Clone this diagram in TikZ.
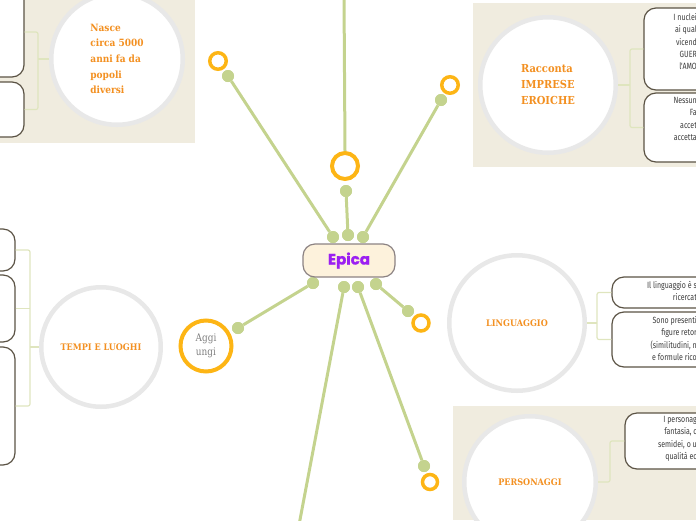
\documentclass[tikz,border=0pt]{standalone}
\usepackage{fontspec}
\setmainfont{DejaVu Serif}
\newfontfamily\headfont{DejaVu Serif}[FakeStretch=0.9]
\newfontfamily\boxfont{Fira Sans}[FakeStretch=0.78]
\newfontfamily\epicafont{Poppins}[FakeBold=1.2]
\newfontfamily\aggifont{DejaVu Serif}[FakeStretch=0.85]
\definecolor{panel}{HTML}{F0ECDF}
\definecolor{ringgrey}{HTML}{E8E8E8}
\definecolor{orangetxt}{HTML}{F39021}
\definecolor{amber}{HTML}{FDB515}
\definecolor{twig}{HTML}{C4D38E}
\definecolor{brkcol}{HTML}{DFE5BE}
\definecolor{boxline}{HTML}{5B5345}
\definecolor{boxtext}{HTML}{3C3C3C}
\definecolor{epicafill}{HTML}{FDF2DC}
\definecolor{epicaline}{HTML}{8C8383}
\definecolor{epicatext}{HTML}{9B1FF2}
\definecolor{aggitext}{HTML}{808080}
\tikzset{
  topic/.style={circle, fill=white, draw=ringgrey, line width=4.5pt, inner sep=0pt,
    text=orangetxt, font=\headfont\bfseries\fontsize{9}{15.6}\selectfont, align=left},
  leaf/.style={draw=boxline, line width=1.2pt, fill=white, rounded corners=12pt, inner sep=0pt},
  brk/.style={draw=brkcol, line width=1.2pt, rounded corners=2pt},
  twigline/.style={draw=twig, line width=3pt},
  knob/.style={circle, fill=twig, inner sep=0pt, minimum size=12pt},
  ring/.style={circle, draw=amber, fill=white, inner sep=0pt},
  boxtxt/.style={text=boxtext, font=\boxfont\fontsize{9}{12.4}\selectfont, align=right, anchor=north east, inner sep=0pt}
}
\begin{document}
\begin{tikzpicture}[x=1pt,y=-1pt]
\useasboundingbox (0,0) rectangle (696,520);
% panels
\fill[panel] (0,0) rectangle (195,143);
\fill[panel] (473,3) rectangle (696,167);
\fill[panel] (453,406) rectangle (696,520);
% leaf boxes
\node[leaf, minimum width=80, minimum height=90] (bTL1) at (-16,32) {};
\node[leaf, minimum width=80, minimum height=55] (bTL2) at (-16,109.5) {};
\node[leaf, minimum width=75, minimum height=42] (bL1) at (-22.5,250) {};
\node[leaf, minimum width=75, minimum height=67] (bL2) at (-22.5,308.5) {};
\node[leaf, minimum width=75, minimum height=118] (bL3) at (-22.5,406) {};
\node[leaf, minimum width=116, minimum height=82] (bTR1) at (702,49) {};
\node[leaf, minimum width=116, minimum height=69] (bTR2) at (702,127.5) {};
\node[leaf, minimum width=128, minimum height=31] (bR1) at (676,292.5) {};
\node[leaf, minimum width=128, minimum height=55] (bR2) at (676,339.5) {};
\node[leaf, minimum width=135, minimum height=56] (bP) at (692.5,441) {};
% topic circles
\node[topic, minimum size=131.5, font=\headfont\bfseries\fontsize{10}{15.6}\selectfont] (cTL) at (117,59)
  {Nasce\\circa 5000\\anni fa da\\popoli\\diversi};
\node[topic, minimum size=135.5, font=\headfont\bfseries\fontsize{11}{16}\selectfont] (cTR) at (548,85)
  {Racconta\\IMPRESE\\EROICHE};
\node[topic, minimum size=119.5] (cL) at (101,347) {TEMPI E LUOGHI};
\node[topic, minimum size=135.5] (cR) at (517,323) {LINGUAGGIO};
\node[topic, minimum size=131.5] (cP) at (530,482) {PERSONAGGI};
% brackets
\draw[brk] (bTL1.east) -| (38,59) |- (bTL2.east);
\draw[brk] (cTL.west) -- (38,59);
\draw[brk] (bL1.east) -| (30,347) |- (bL3.east);
\draw[brk] (bL2.east) -- (30,308.5);
\draw[brk] (cL.west) -- (30,347);
\draw[brk] (bTR1.west) -| (630,85) |- (bTR2.west);
\draw[brk] (cTR.east) -- (630,85);
\draw[brk] (bR1.west) -| (597,323) |- (bR2.west);
\draw[brk] (cR.east) -- (597,323);
\draw[brk] (cP.east) -- (610,482) |- (bP.west);
% leaf texts (cut by the picture edge)
\node[boxtxt] (tTR1) at (697,13) {I nuclei\\ai qual\\vicend\\GUER\\l'AMO};
\node[boxtxt] (tTR2) at (697,97) {Nessun\\Fa\\accet\\accetta};
\node[boxtxt] (tR1) at (697,281) {Il linguaggio è s\\ricercat};
\node[boxtxt] (tR2) at (697,316) {Sono presenti\\figure retor\\(similitudini, n\\e formule rico};
\node[boxtxt] (tP) at (697,416) {I personag\\fantasia, c\\semidei, o u\\qualità ec};
% knobs
\node[knob] (k1) at (333,237) {};
\node[knob] (k2) at (348,235) {};
\node[knob] (k3) at (363,237) {};
\node[knob] (k4) at (228,76) {};
\node[knob] (k5) at (346,191) {};
\node[knob] (k6) at (441,100) {};
\node[knob] (k7) at (313,283) {};
\node[knob] (k8) at (344,287) {};
\node[knob] (k9) at (358,287) {};
\node[knob] (k10) at (376,284) {};
\node[knob] (k11) at (238,328) {};
\node[knob] (k12) at (424,466) {};
\node[knob] (k13) at (408,311) {};
\coordinate (top) at (344,-5);
\coordinate (bot) at (299,525);
% rings
\node[ring, line width=3.5pt, minimum size=16.5] (rTL) at (218,61) {};
\node[ring, line width=4pt, minimum size=26] (rTop) at (345,166) {};
\node[ring, line width=3.5pt, minimum size=16.5] (rTR) at (450,85) {};
\node[ring, line width=4pt, minimum size=51, text=aggitext, align=center,
  font=\aggifont\fontsize{10.5}{14}\selectfont] (rAgg) at (206,346) {Aggi\\ungi};
\node[ring, line width=3.5pt, minimum size=15] (rB) at (430,482) {};
\node[ring, line width=3.5pt, minimum size=16] (rR) at (421,323) {};
% twigs
\draw[twigline] (k1) -- (k4);
\draw[twigline] (k2) -- (k5);
\draw[twigline] (k3) -- (k6);
\draw[twigline] (rTop.north) -- (top);
\draw[twigline] (k7) -- (k11);
\draw[twigline] (k8) -- (bot);
\draw[twigline] (k9) -- (k12);
\draw[twigline] (k10) -- (k13);
\foreach \k in {k1,k2,k3,k4,k5,k6,k7,k8,k9,k10,k11,k12,k13}
  \fill[twig] (\k) circle (6pt);
% central node
\node[draw=epicaline, fill=epicafill, line width=1.2pt, rounded corners=12pt,
  minimum width=92, minimum height=33, text=epicatext,
  font=\epicafont\bfseries\fontsize{15}{18}\selectfont] (epica) at (349,260.5) {Epica};
\end{tikzpicture}
\end{document}
